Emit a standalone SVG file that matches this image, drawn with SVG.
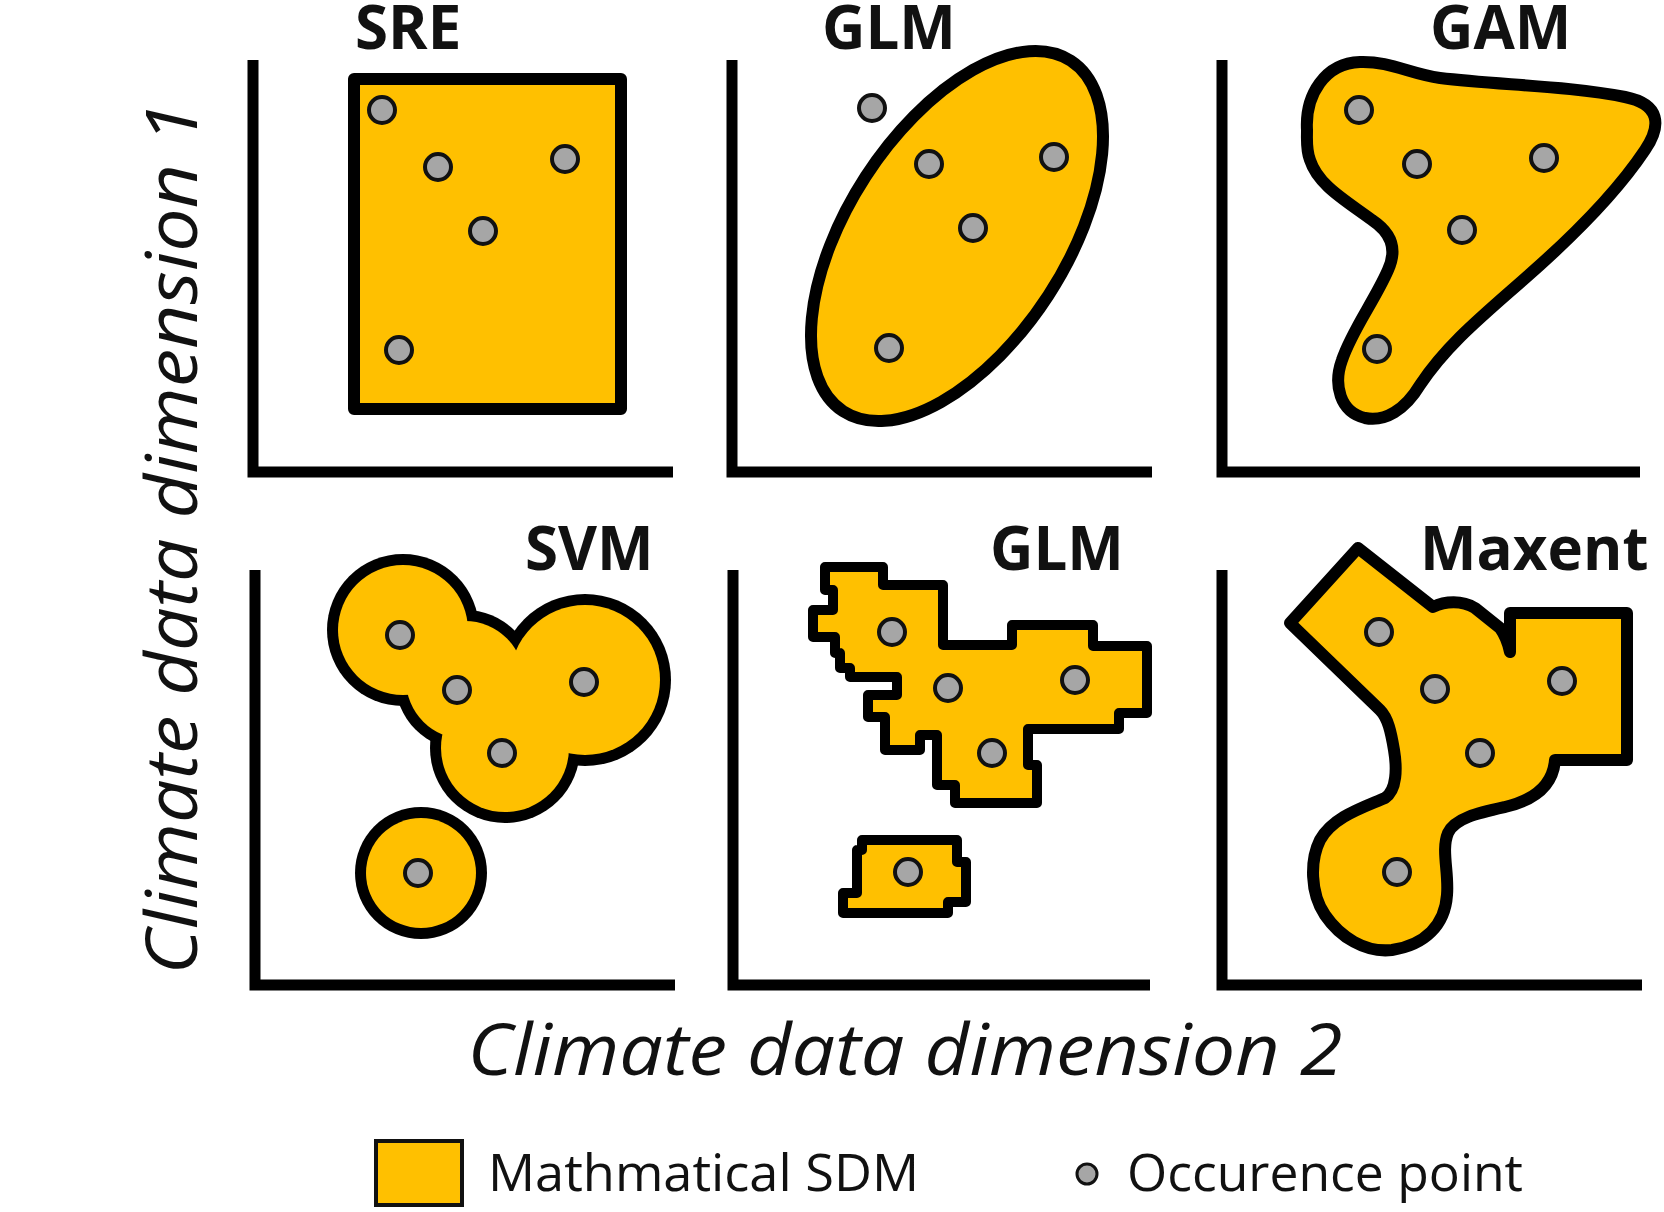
<svg xmlns="http://www.w3.org/2000/svg" width="1664" height="1212" viewBox="0 0 1664 1212">
<style>
.axis{fill:none;stroke:#000;stroke-width:11;stroke-linejoin:miter;stroke-linecap:butt}
.sdm{fill:#FFC000;stroke:#000;stroke-width:12;stroke-linejoin:round}
.pix{fill:#FFC000;stroke:#000;stroke-width:10;stroke-linejoin:round}
.pt{fill:#A6A6A6;stroke:#111;stroke-width:4}
.title{font-family:"Open Sans","Liberation Sans",sans-serif;font-weight:bold;font-size:60px;fill:#111}
.lab{font-family:"Open Sans","Liberation Sans",sans-serif;font-style:italic;font-size:71px;fill:#111}
.leg{font-family:"Open Sans","Liberation Sans",sans-serif;font-size:52px;fill:#111}
</style>
<rect width="1664" height="1212" fill="#fff"/>
<g id="axes">
<polyline class="axis" points="253,60 253,472 673,472"/>
<polyline class="axis" points="732,60 732,472 1152,472"/>
<polyline class="axis" points="1222,60 1222,472 1640,472"/>
<polyline class="axis" points="255,570 255,985 675,985"/>
<polyline class="axis" points="733,570 733,985 1150,985"/>
<polyline class="axis" points="1222,570 1222,985 1642,985"/>
</g>
<g id="panel-sre">
<text class="title" x="355" y="49">SRE</text>
<rect class="sdm" x="354" y="79" width="267" height="330" stroke-linejoin="miter"/>
<circle class="pt" cx="382" cy="110" r="13"/>
<circle class="pt" cx="438" cy="167" r="13"/>
<circle class="pt" cx="565" cy="159" r="13"/>
<circle class="pt" cx="483" cy="231" r="13"/>
<circle class="pt" cx="399" cy="350" r="13"/>
</g>
<g id="panel-glm1">
<text class="title" x="822" y="49">GLM</text>
<ellipse class="sdm" cx="957" cy="236" rx="209" ry="109" transform="rotate(-57 957 236)"/>
<circle class="pt" cx="872" cy="108" r="13"/>
<circle class="pt" cx="929" cy="164" r="13"/>
<circle class="pt" cx="1054" cy="157" r="13"/>
<circle class="pt" cx="973" cy="228" r="13"/>
<circle class="pt" cx="889" cy="348" r="13"/>
</g>
<g id="panel-gam">
<text class="title" x="1430" y="49">GAM</text>
<path class="sdm" d="M1307,130 C1305,95 1325,63 1360,62 C1390,61 1410,74 1440,78 C1500,85 1570,86 1625,97 C1660,104 1662,125 1645,150 C1625,180 1590,220 1540,265 C1490,310 1450,340 1420,385 C1405,410 1385,422 1365,418 C1340,412 1333,385 1342,360 C1352,330 1375,300 1388,270 C1398,248 1390,232 1372,220 C1345,200 1318,185 1310,160 C1306,150 1307,140 1307,130 Z"/>
<circle class="pt" cx="1359" cy="110" r="13"/>
<circle class="pt" cx="1417" cy="164" r="13"/>
<circle class="pt" cx="1544" cy="158" r="13"/>
<circle class="pt" cx="1462" cy="230" r="13"/>
<circle class="pt" cx="1377" cy="349" r="13"/>
</g>
<g id="panel-svm">
<text class="title" x="525" y="570">SVM</text>
<g fill="#000">
<circle cx="403" cy="630" r="76"/>
<circle cx="465" cy="680" r="70"/>
<circle cx="585" cy="680" r="86"/>
<circle cx="505" cy="748" r="75"/>
<circle cx="421" cy="873" r="66"/>
</g>
<g fill="#FFC000">
<circle cx="403" cy="630" r="65"/>
<circle cx="465" cy="680" r="59"/>
<circle cx="585" cy="680" r="75"/>
<circle cx="505" cy="748" r="64"/>
<circle cx="421" cy="873" r="55"/>
</g>
<circle class="pt" cx="400" cy="635" r="13"/>
<circle class="pt" cx="457" cy="690" r="13"/>
<circle class="pt" cx="584" cy="682" r="13"/>
<circle class="pt" cx="502" cy="753" r="13"/>
<circle class="pt" cx="418" cy="873" r="13"/>
</g>
<g id="panel-glm2">
<text class="title" x="990" y="570">GLM</text>
<path class="pix" d="M825,567 H883 V585 H943 V645 H1012 V625 H1093 V646 H1147 V713 H1119 V729 H1028 V765 H1037 V803 H955 V785 H937 V735 H920 V750 H885 V717 H868 V695 H897 V677 H850 V668 H840 V653 H835 V637 H813 V610 H833 V590 H825 Z"/>
<path class="pix" d="M862,840 H957 V862 H966 V902 H948 V913 H843 V893 H857 V850 H862 Z"/>
<circle class="pt" cx="892" cy="632" r="13"/>
<circle class="pt" cx="948" cy="688" r="13"/>
<circle class="pt" cx="1075" cy="680" r="13"/>
<circle class="pt" cx="992" cy="753" r="13"/>
<circle class="pt" cx="908" cy="872" r="13"/>
</g>
<g id="panel-maxent">
<text class="title" x="1420" y="570">Maxent</text>
<path class="sdm" stroke-width="10" d="M1358,548 L1433,607 C1445,601 1462,600 1475,608 L1500,628 C1505,635 1508,642 1510,652 L1510,613 L1627,613 L1627,760 L1555,760 C1553,785 1535,800 1505,807 C1478,813 1455,818 1448,833 C1441,850 1449,872 1447,895 C1445,925 1425,945 1392,950 C1365,953 1340,937 1325,915 C1310,893 1310,860 1320,840 C1333,817 1362,808 1385,798 C1397,790 1397,768 1394,750 C1391,732 1388,718 1380,710 L1290,623 Z" stroke-linejoin="miter"/>
<circle class="pt" cx="1379" cy="632" r="13"/>
<circle class="pt" cx="1435" cy="689" r="13"/>
<circle class="pt" cx="1562" cy="681" r="13"/>
<circle class="pt" cx="1480" cy="753" r="13"/>
<circle class="pt" cx="1397" cy="872" r="13"/>
</g>
<g id="labels">
<text class="lab" x="905" y="1075" text-anchor="middle" textLength="875" lengthAdjust="spacingAndGlyphs">Climate data dimension 2</text>
<text class="lab" transform="translate(197,538) rotate(-90)" text-anchor="middle" textLength="873" lengthAdjust="spacingAndGlyphs">Climate data dimension 1</text>
</g>
<g id="legend">
<rect x="376" y="1141" width="86" height="64" fill="#FFC000" stroke="#111" stroke-width="4"/>
<text class="leg" x="488" y="1191" textLength="431" lengthAdjust="spacingAndGlyphs">Mathmatical SDM</text>
<circle cx="1087" cy="1174" r="10" fill="#A6A6A6" stroke="#111" stroke-width="3"/>
<text class="leg" x="1127" y="1191" textLength="396" lengthAdjust="spacingAndGlyphs">Occurence point</text>
</g>
</svg>
